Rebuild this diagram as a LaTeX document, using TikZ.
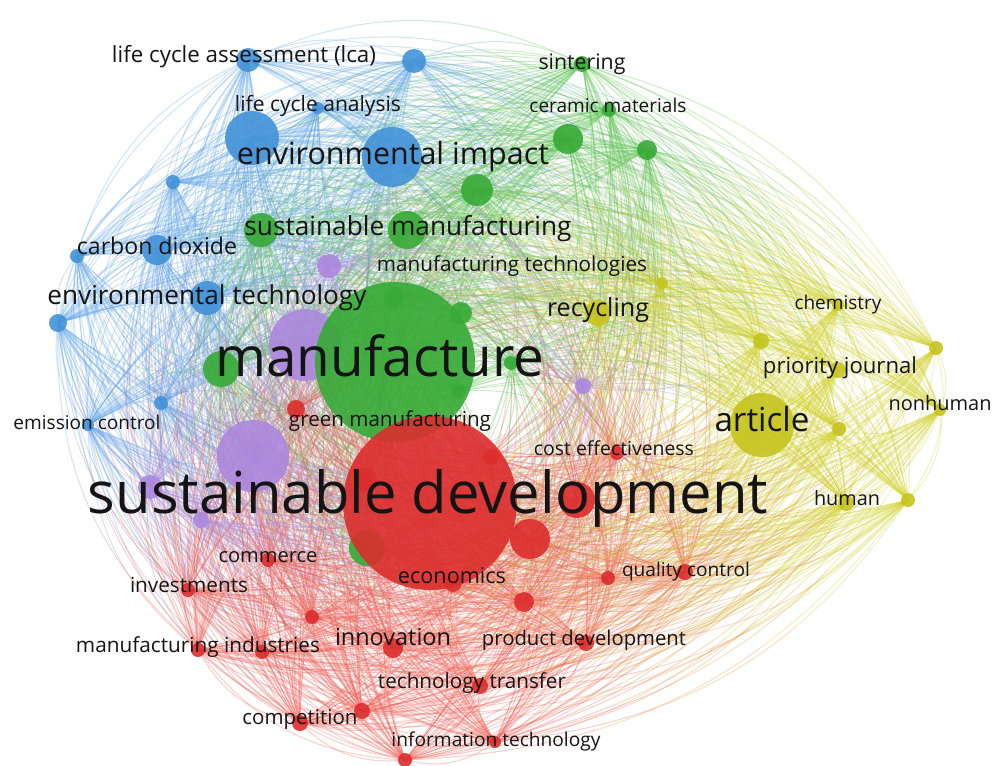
\documentclass[tikz,border=0pt]{standalone}
\usepackage{fontspec}
\setmainfont{Open Sans}
\usepackage{graphicx}
\pgfdeclarelayer{edges}
\pgfsetlayers{edges,main}
\definecolor{cB}{RGB}{66,146,216}
\definecolor{cG}{RGB}{55,170,55}
\definecolor{cP}{RGB}{172,135,222}
\definecolor{cR}{RGB}{220,45,45}
\definecolor{cY}{RGB}{198,196,30}
\definecolor{eB}{RGB}{100,165,232}
\definecolor{eG}{RGB}{90,195,80}
\definecolor{eP}{RGB}{175,145,228}
\definecolor{eR}{RGB}{240,95,85}
\definecolor{eY}{RGB}{208,208,45}
\definecolor{txt}{RGB}{20,20,20}
\newcommand\fw[2]{\resizebox{#1pt}{!}{\vphantom{Ag(}#2}}
\def\nodelist{g14/367/548/18/G, p2/305/345/36/P, g8/395/362/80/G, r1/430/503/87/R,
b1/248/60/12/B, b2/414/61/12/B, b3/318/108/6/B, b4/252/138/27/B, b5/392/157/30/B, b6/173/182/7/B,
b7/157/250/15/B, b8/77/256/7/B, b9/207/298/17/B, b10/58/323/9/B, b11/161/403/7/B, b12/88/425/6/B,
g1/582/64/8/G, g2/609/110/7/G, g3/568/139/15/G, g4/647/150/10/G, g5/477/190/16/G, g6/261/230/17/G,
g7/407/230/19/G, g9/394/297/10/G, g10/461/313/11/G, g11/221/369/18/G, g12/511/363/7/G, g13/459/391/7/G,
p1/329/266/12/P, p3/253/456/36/P, p4/150/487/12/P, p5/201/520/8/P, p6/583/386/8/P,
r2/296/409/9/R, r3/491/457/8/R, r4/365/480/12/R, r5/617/453/7/R, r6/577/500/18/R, r7/530/539/20/R,
r8/453/583/9/R, r9/608/578/7/R, r10/685/572/8/R, r11/524/602/10/R, r12/586/643/8/R, r13/268/560/7/R,
r14/188/590/7/R, r15/312/617/7/R, r16/198/650/7/R, r17/262/652/7/R, r18/393/648/10/R, r19/480/686/8/R,
r20/300/723/8/R, r21/362/711/8/R, r22/405/760/7/R, r23/495/742/6/R,
y1/662/283/6/Y, y2/598/313/13/Y, y3/838/305/6/Y, y4/761/341/8/Y, y5/838/370/8/Y, y6/936/348/7/Y,
y7/940/410/6/Y, y8/762/425/32/Y, y9/839/429/7/Y, y10/846/503/8/Y, y11/908/500/7/Y}
\tikzset{
  kw/.style={circle, inner sep=0pt, outer sep=0pt, fill opacity=0.9},
  lbl/.style={inner sep=0pt, text=txt},
  edge/.style={line width=1.0pt, draw opacity=0.3}
}
\begin{document}
\begin{tikzpicture}[x=1pt,y=-1pt]
\useasboundingbox (0,0) rectangle (1005,766);
% keyword circles
\foreach \n/\x/\y/\r/\c in \nodelist {
  \node[kw, fill=c\c, minimum size=2*\r] (\n) at (\x,\y) {};
}
% connectors (colour runs from one end's cluster colour to the other's)
\begin{pgfonlayer}{edges}
\foreach \a/\xa/\ya/\ra/\ca [count=\i] in \nodelist {
  \foreach \b/\xb/\yb/\rb/\cb [count=\j] in \nodelist {
    \ifnum\j>\i
      \pgfmathsetmacro\crs{((\xb-\xa)/100)*((400-\ya)/100)-((\yb-\ya)/100)*((480-\xa)/100)}
      \pgfmathsetmacro\ang{ifthenelse(\crs<0,-25,25)}
      \ifx\ca\cb
        \draw[edge, draw=e\ca] (\a.center) to[bend left=\ang] (\b.center);
      \else
        \pgfmathsetmacro\Lt{1.03*veclen((\xb-\xa)/100,(\yb-\ya)/100)*100/3}
        \pgfmathsetmacro\Ltt{2*\Lt}
        \draw[edge, draw=e\ca, dash pattern=on \Lt pt off 9000pt] (\a.center) to[bend left=\ang] (\b.center);
        \draw[edge, draw=e\ca!50!e\cb, dash pattern=on 0pt off \Lt pt on \Lt pt off 9000pt] (\a.center) to[bend left=\ang] (\b.center);
        \draw[edge, draw=e\cb, dash pattern=on 0pt off \Ltt pt on 9000pt] (\a.center) to[bend left=\ang] (\b.center);
      \fi
    \fi
  }
}
\end{pgfonlayer}
% labels
\node[lbl] (t1) at (244,57) {\fw{264}{life cycle assessment (lca)}};
\node[lbl] (t2) at (318,106) {\fw{166}{life cycle analysis}};
\node[lbl] (t3) at (393,157) {\fw{312}{environmental impact}};
\node[lbl] (t4) at (582,64) {\fw{87}{sintering}};
\node[lbl] (t5) at (608,108) {\fw{157}{ceramic materials}};
\node[lbl] (t6) at (408,229) {\fw{327}{sustainable manufacturing}};
\node[lbl] (t7) at (157,248) {\fw{160}{carbon dioxide}};
\node[lbl] (t8) at (512,266) {\fw{270}{manufacturing technologies}};
\node[lbl] (t9) at (207,298) {\fw{319}{environmental technology}};
\node[lbl] (t10) at (598,310) {\fw{102}{recycling}};
\node[lbl] (t11) at (838,305) {\fw{87}{chemistry}};
\node[lbl] (t12) at (380,362) {\fw{329}{manufacture}};
\node[lbl] (t13) at (840,368) {\fw{154}{priority journal}};
\node[lbl] (t14) at (940,405) {\fw{103}{nonhuman}};
\node[lbl] (t15) at (87,425) {\fw{147}{emission control}};
\node[lbl] (t16) at (390,421) {\fw{202}{green manufacturing}};
\node[lbl] (t17) at (762,423) {\fw{95}{article}};
\node[lbl] (t18) at (614,450) {\fw{160}{cost effectiveness}};
\node[lbl] (t19) at (428,498) {\fw{680}{sustainable development}};
\node[lbl] (t20) at (847,500) {\fw{66}{human}};
\node[lbl] (t21) at (268,558) {\fw{99}{commerce}};
\node[lbl] (t22) at (189,587) {\fw{118}{investments}};
\node[lbl] (t23) at (452,578) {\fw{108}{economics}};
\node[lbl] (t24) at (686,572) {\fw{128}{quality control}};
\node[lbl] (t25) at (198,647) {\fw{244}{manufacturing industries}};
\node[lbl] (t26) at (393,640) {\fw{116}{innovation}};
\node[lbl] (t27) at (584,640) {\fw{204}{product development}};
\node[lbl] (t28) at (472,683) {\fw{188}{technology transfer}};
\node[lbl] (t29) at (300,719) {\fw{115}{competition}};
\node[lbl] (t30) at (496,741) {\fw{209}{information technology}};
\end{tikzpicture}
\end{document}
